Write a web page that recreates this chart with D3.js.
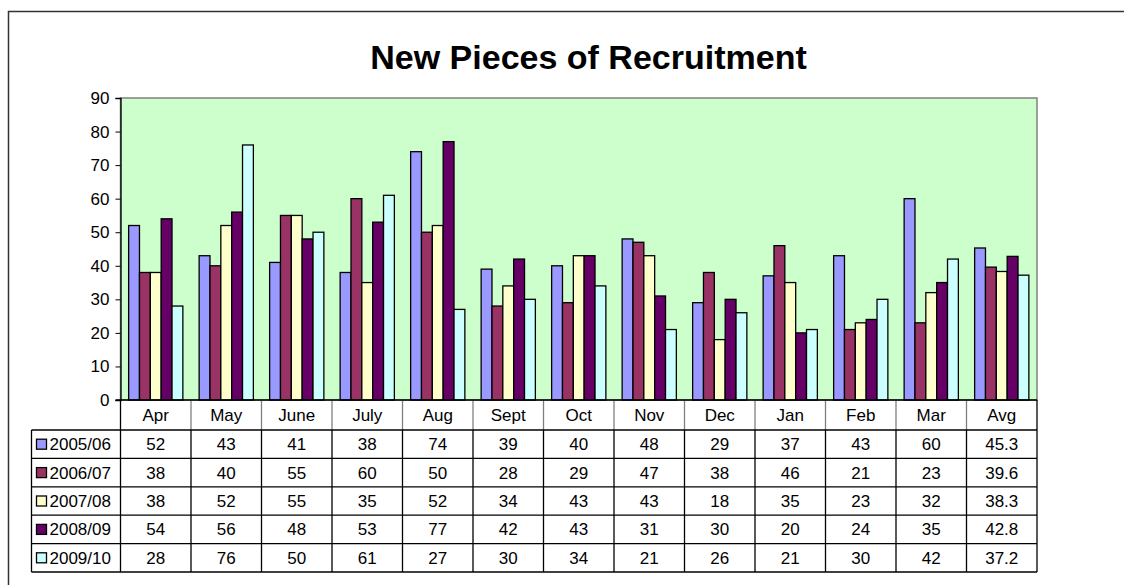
<!DOCTYPE html>
<html>
<head>
<meta charset="utf-8">
<script src="https://cdn.jsdelivr.net/npm/d3@7"></script>
<style>
  body { margin: 0; background: #fff; }
  svg { display: block; font-family: "Liberation Sans", Arial, sans-serif; }
</style>
</head>
<body>
<div id="chart"></div>
<script>
// Data
const categories = ["Apr", "May", "June", "July", "Aug", "Sept", "Oct", "Nov", "Dec", "Jan", "Feb", "Mar", "Avg"];
const seriesNames = ["2005/06", "2006/07", "2007/08", "2008/09", "2009/10"];
const y2005 = [52, 43, 41, 38, 74, 39, 40, 48, 29, 37, 43, 60, 45.3];
const y2006 = [38, 40, 55, 60, 50, 28, 29, 47, 38, 46, 21, 23, 39.6];
const y2007 = [38, 52, 55, 35, 52, 34, 43, 43, 18, 35, 23, 32, 38.3];
const y2008 = [54, 56, 48, 53, 77, 42, 43, 31, 30, 20, 24, 35, 42.8];
const y2009 = [28, 76, 50, 61, 27, 30, 34, 21, 26, 21, 30, 42, 37.2];
const yTicks = [0, 10, 20, 30, 40, 50, 60, 70, 80, 90];

const seriesValues = [y2005, y2006, y2007, y2008, y2009];
const colors = ["#9999FF", "#993366", "#FFFFCC", "#660066", "#CCFFFF"];

const width = 1124;
const height = 585;
const plot = { left: 120.5, right: 1037, top: 98, bottom: 400 };
const tableLeft = 31.5;
const headerH = 30;
const rowH = 28.4;
const fontSize = "17px";

const svg = d3.select("#chart")
  .append("svg")
  .attr("width", width)
  .attr("height", height);

// Outer chart frame (only left and top visible)
svg.append("path")
  .attr("d", `M8.5,${height + 10} L8.5,11.5 L${width + 10},11.5`)
  .attr("fill", "none")
  .attr("stroke", "#333")
  .attr("stroke-width", 1.5);

// Title
svg.append("text")
  .attr("x", 588.5)
  .attr("y", 69)
  .attr("text-anchor", "middle")
  .style("font-size", "34px")
  .style("font-weight", "bold")
  .text("New Pieces of Recruitment");

// Scales
const x = d3.scaleBand()
  .domain(categories)
  .range([plot.left, plot.right])
  .padding(0);

const xInner = d3.scaleBand()
  .domain(seriesNames)
  .range([0, x.bandwidth()])
  .paddingInner(0)
  .paddingOuter(0.75);

const y = d3.scaleLinear()
  .domain([0, 90])
  .range([plot.bottom, plot.top]);

// Plot background
svg.append("rect")
  .attr("x", plot.left)
  .attr("y", plot.top)
  .attr("width", plot.right - plot.left)
  .attr("height", plot.bottom - plot.top)
  .attr("fill", "#CCFFCC")
  .attr("stroke", "#808080")
  .attr("stroke-width", 1.5);

// Bars
seriesNames.forEach((name, si) => {
  svg.append("g")
    .selectAll("rect")
    .data(seriesValues[si])
    .join("rect")
    .attr("x", (d, i) => x(categories[i]) + xInner(name))
    .attr("y", d => y(d))
    .attr("width", xInner.bandwidth())
    .attr("height", d => y(0) - y(d))
    .attr("fill", colors[si])
    .attr("stroke", "#000")
    .attr("stroke-width", 1.3);
});

// Y axis
const yAxis = svg.append("g")
  .attr("transform", `translate(${plot.left},0)`)
  .call(d3.axisLeft(y).tickValues(yTicks).tickSize(5).tickPadding(6));
yAxis.selectAll("text")
  .style("font-size", fontSize)
  .style("font-family", "'Liberation Sans', Arial, sans-serif")
  .attr("fill", "#000");
yAxis.selectAll("line").attr("stroke", "#000");
yAxis.select(".domain").attr("stroke", "#000").attr("stroke-width", 1.3);

// Data table
const tableBottom = plot.bottom + headerH + rowH * seriesNames.length;
const table = svg.append("g");

// Header row labels
table.selectAll(".cat")
  .data(categories)
  .join("text")
  .attr("class", "cat")
  .attr("x", d => x(d) + x.bandwidth() / 2)
  .attr("y", plot.bottom + headerH / 2)
  .attr("dy", "0.35em")
  .attr("text-anchor", "middle")
  .style("font-size", fontSize)
  .text(d => d);

// Vertical separators in header row (gray)
table.selectAll(".vhead")
  .data(categories.concat(["end"]))
  .join("line")
  .attr("x1", (d, i) => plot.left + i * x.bandwidth())
  .attr("x2", (d, i) => plot.left + i * x.bandwidth())
  .attr("y1", plot.bottom)
  .attr("y2", plot.bottom + headerH)
  .attr("stroke", (d, i) => (i === 0 || i === categories.length) ? "#000" : "#808080")
  .attr("stroke-width", 1.3);

// Vertical lines in data rows
table.selectAll(".vbody")
  .data([tableLeft].concat(d3.range(categories.length + 1).map(i => plot.left + i * x.bandwidth())))
  .join("line")
  .attr("x1", d => d)
  .attr("x2", d => d)
  .attr("y1", plot.bottom + headerH)
  .attr("y2", tableBottom)
  .attr("stroke", "#000")
  .attr("stroke-width", 1.3);

// Horizontal lines
table.selectAll(".hline")
  .data(d3.range(seriesNames.length + 1))
  .join("line")
  .attr("x1", tableLeft)
  .attr("x2", plot.right)
  .attr("y1", i => plot.bottom + headerH + i * rowH)
  .attr("y2", i => plot.bottom + headerH + i * rowH)
  .attr("stroke", "#000")
  .attr("stroke-width", 1.3);

// X axis line
svg.append("line")
  .attr("x1", plot.left - 5)
  .attr("x2", plot.right)
  .attr("y1", plot.bottom)
  .attr("y2", plot.bottom)
  .attr("stroke", "#000")
  .attr("stroke-width", 1.3);

// Rows: legend key, name, values
seriesNames.forEach((name, si) => {
  const rowMid = plot.bottom + headerH + si * rowH + rowH / 2;
  table.append("rect")
    .attr("x", 36.5)
    .attr("y", rowMid - 5)
    .attr("width", 10)
    .attr("height", 10)
    .attr("fill", colors[si])
    .attr("stroke", "#000")
    .attr("stroke-width", 1.3);
  table.append("text")
    .attr("x", 49.5)
    .attr("y", rowMid)
    .attr("dy", "0.35em")
    .style("font-size", fontSize)
    .text(name);
  table.append("g")
    .selectAll("text")
    .data(seriesValues[si])
    .join("text")
    .attr("x", (d, i) => x(categories[i]) + x.bandwidth() / 2)
    .attr("y", rowMid)
    .attr("dy", "0.35em")
    .attr("text-anchor", "middle")
    .style("font-size", fontSize)
    .text(d => d);
});
</script>
</body>
</html>
